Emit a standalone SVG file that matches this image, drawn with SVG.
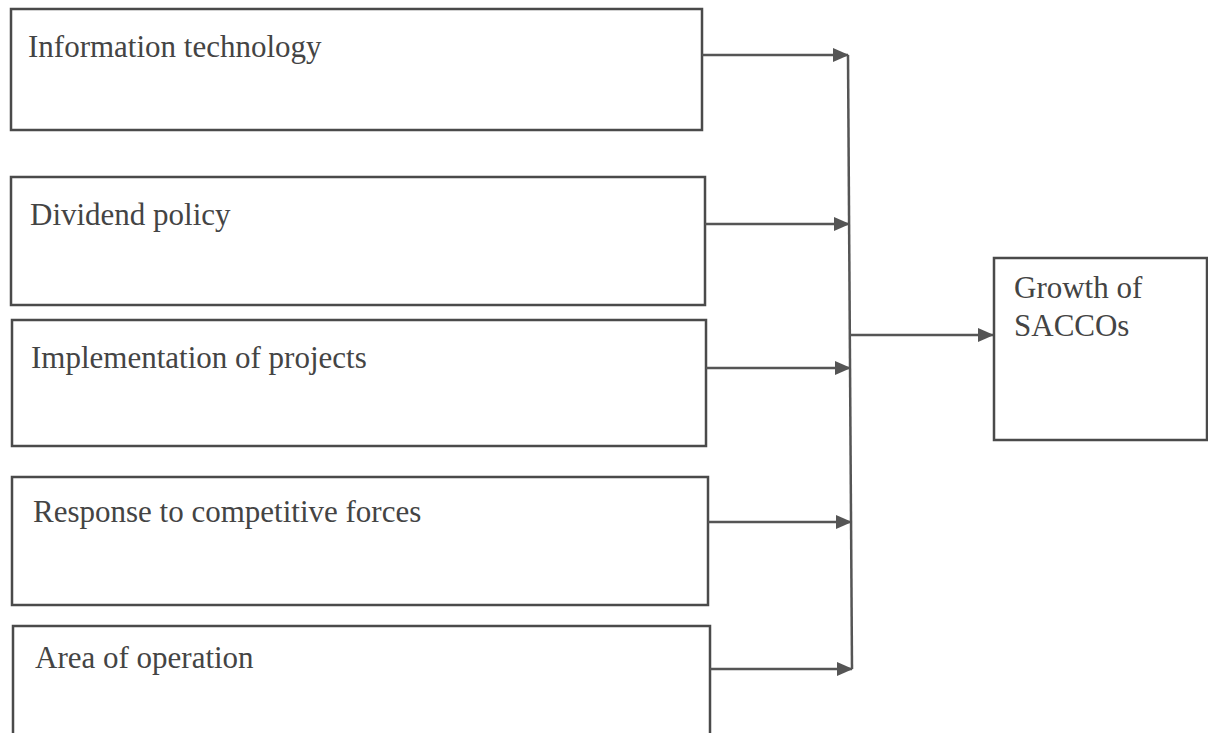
<svg xmlns="http://www.w3.org/2000/svg" width="1208" height="733" viewBox="0 0 1208 733">
<defs>
<style>
.box{fill:none;stroke:#4a4a4a;stroke-width:2.5}
.lbl{font-family:"Liberation Serif","Times New Roman",serif;font-size:31px;fill:#444}
.con{fill:none;stroke:#555;stroke-width:2.5}
</style>
<marker id="ahL" markerWidth="16" markerHeight="14" refX="15" refY="7" orient="auto" markerUnits="userSpaceOnUse" viewBox="0 0 16 14">
<path d="M0,0 L16,7 L0,14 Z" fill="#555"/>
</marker>
</defs>
<rect width="1208" height="733" fill="#fff"/>
<g id="n1"><rect class="box" x="11" y="9" width="691" height="121"/><text class="lbl" x="28" y="57">Information technology</text></g>
<g id="n2"><rect class="box" x="11" y="177" width="694" height="128"/><text class="lbl" x="30" y="225">Dividend policy</text></g>
<g id="n3"><rect class="box" x="12" y="320" width="694" height="126"/><text class="lbl" x="31" y="368">Implementation of projects</text></g>
<g id="n4"><rect class="box" x="12" y="477" width="696" height="128"/><text class="lbl" x="33" y="522">Response to competitive forces</text></g>
<g id="n5"><rect class="box" x="13" y="626" width="697" height="112"/><text class="lbl" x="35" y="668">Area of operation</text></g>
<g id="n6"><rect class="box" x="994" y="258" width="213" height="182"/><text class="lbl" x="1014" y="298">Growth of</text><text class="lbl" x="1014" y="336">SACCOs</text></g>
<g id="connectors">
<line class="con" x1="848" y1="55" x2="852" y2="669"/>
<line class="con" x1="702" y1="55" x2="848" y2="55" marker-end="url(#ahL)"/>
<line class="con" x1="705" y1="224" x2="849" y2="224" marker-end="url(#ahL)"/>
<line class="con" x1="706" y1="368" x2="850" y2="368" marker-end="url(#ahL)"/>
<line class="con" x1="708" y1="522" x2="851" y2="522" marker-end="url(#ahL)"/>
<line class="con" x1="710" y1="669" x2="852" y2="669" marker-end="url(#ahL)"/>
<line class="con" x1="850" y1="335" x2="993" y2="335" marker-end="url(#ahL)"/>
</g>
</svg>
